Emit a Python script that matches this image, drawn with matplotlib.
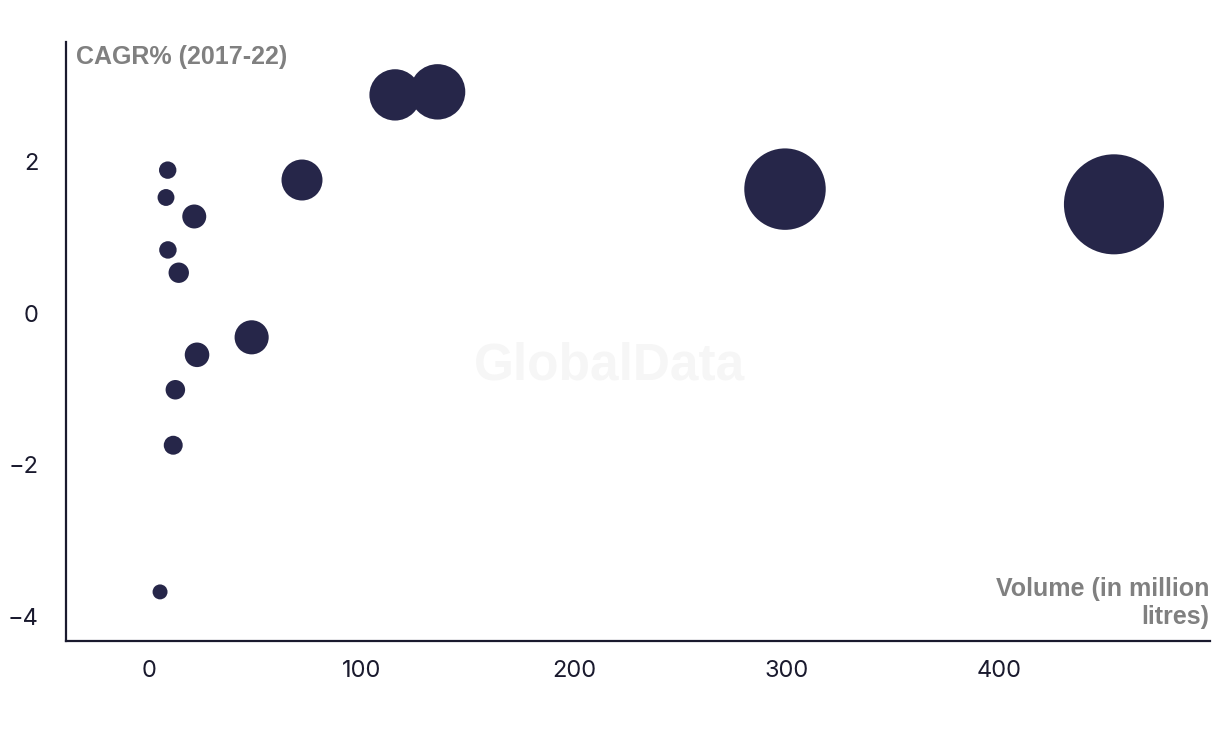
import matplotlib
matplotlib.use("Agg")
import matplotlib.pyplot as plt
import numpy as np

# Data
volume = [5.2, 8.0, 8.8, 8.9, 11.4, 12.4, 14.0, 21.3, 22.6, 48.3, 72.0, 115.8, 135.8, 299.3, 454.1]
cagr = [-3.67, 1.52, 1.88, 0.83, -1.74, -1.01, 0.53, 1.27, -0.55, -0.32, 1.75, 2.87, 2.91, 1.63, 1.43]
x_ticks = [0, 100, 200, 300, 400]
y_ticks = [-4, -2, 0, 2]

BUBBLE = "#262649"
GREY = "#808080"
TICK = "#1a1a2e"

fig = plt.figure(figsize=(12.2, 7.32), dpi=100)
ax = fig.add_axes([66 / 1220, 1 - 641 / 732, (1210 - 66) / 1220, (641 - 42) / 732])

vol = np.array(volume)
sizes = 57.4 + 11.3 * vol  # area grows linearly with volume
ax.scatter(vol, cagr, s=sizes, color=BUBBLE, edgecolors="none", zorder=3)

ax.set_xlim(-39.06, 499.3)
ax.set_ylim(-4.316, 3.566)
ax.set_xticks(x_ticks)
ax.set_yticks(y_ticks)
ax.tick_params(axis="both", length=0, labelsize=17, colors=TICK)
ax.tick_params(axis="x", pad=14)
ax.tick_params(axis="y", pad=20)
for lbl in ax.get_xticklabels() + ax.get_yticklabels():
    lbl.set_fontfamily("Inter")

for side in ["top", "right"]:
    ax.spines[side].set_visible(False)
for side in ["left", "bottom"]:
    ax.spines[side].set_color(TICK)
    ax.spines[side].set_linewidth(1.6)

# axis titles
fig.text(76 / 1220, 1 - 57 / 732, "CAGR% (2017-22)", color=GREY, fontsize=18,
         fontweight="bold", family="Liberation Sans", ha="left", va="center")
fig.text(1209 / 1220, 1 - 603 / 732, "Volume (in million\nlitres)", color=GREY, fontsize=18,
         fontweight="bold", family="Liberation Sans", ha="right", va="center",
         multialignment="right", linespacing=1.2)

# watermark
fig.text(610 / 1220, 1 - 366 / 732, "GlobalData", color="#f6f6f6", fontsize=37,
         fontweight="bold", family="Liberation Sans", ha="center", va="center", zorder=0)

fig.savefig("out.png", dpi=100, facecolor="white")
